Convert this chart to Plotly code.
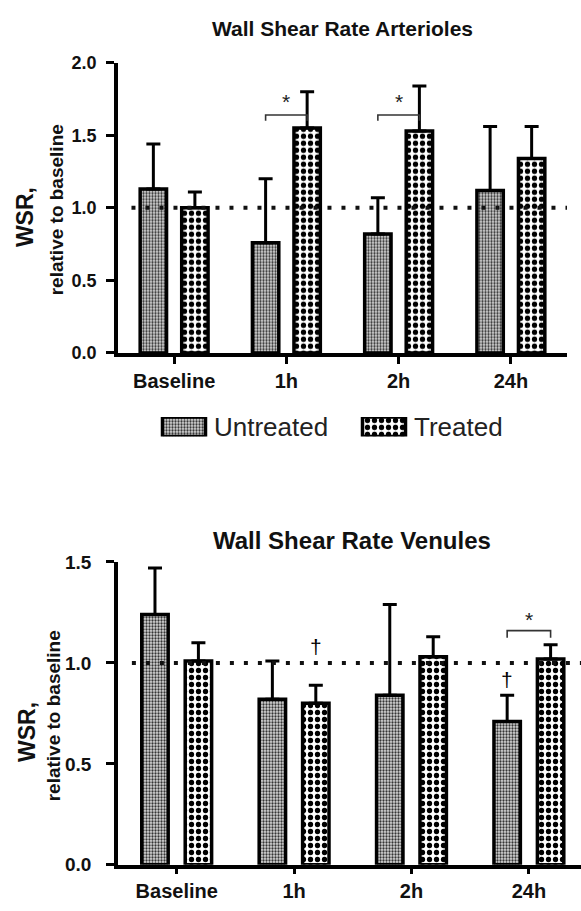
import plotly.graph_objects as go

# ---------------- data ----------------
categories = ["Baseline", "1h", "2h", "24h"]

art_untreated = [1.13, 0.76, 0.82, 1.12]
art_untreated_err = [0.31, 0.44, 0.25, 0.44]
art_treated = [1.00, 1.55, 1.53, 1.34]
art_treated_err = [0.11, 0.25, 0.31, 0.22]

ven_untreated = [1.24, 0.82, 0.84, 0.71]
ven_untreated_err = [0.23, 0.19, 0.45, 0.13]
ven_treated = [1.01, 0.80, 1.03, 1.02]
ven_treated_err = [0.09, 0.09, 0.10, 0.07]

art_ticks = [0.0, 0.5, 1.0, 1.5, 2.0]
ven_ticks = [0.0, 0.5, 1.0, 1.5]
reference_level = 1.0

# significance marks: (category index, bracket level, symbol level)
art_brackets = [(1, 1.64, 1.735), (2, 1.64, 1.735)]
ven_brackets = [(3, 1.16, 1.215)]
# daggers: (category index, series, level)
ven_daggers = [(1, "Treated", 1.08), (3, "Untreated", 0.92)]

series_names = ["Untreated", "Treated"]

# ---------------- style ----------------
W, H = 581, 911
FONT = "Liberation Sans, Arial, Helvetica, sans-serif"
INK = "#111111"
BAR_OFF = 0.185
BAR_W = 0.235

pat_untreated = dict(shape=".", size=3, solidity=0.45, fgcolor="#333333", bgcolor="#d8d8d8", fillmode="replace")
pat_treated = dict(shape=".", size=7, solidity=0.45, fgcolor="#000000", bgcolor="white", fillmode="replace")
patterns = {"Untreated": pat_untreated, "Treated": pat_treated}
offsets = {"Untreated": -BAR_OFF, "Treated": BAR_OFF}

fig = go.Figure()


def add_bars(vals, errs, name, xa, ya, width):
    fig.add_trace(go.Bar(
        x=list(range(len(categories))), y=vals, name=name,
        xaxis=xa, yaxis=ya, showlegend=False,
        width=width, offset=offsets[name] - width / 2,
        marker=dict(color="white", pattern=patterns[name],
                    line=dict(color="black", width=3.5)),
        error_y=dict(type="data", array=errs, arrayminus=[0] * len(errs),
                     symmetric=False, color="black", thickness=3, width=7),
    ))


add_bars(art_untreated, art_untreated_err, "Untreated", "x", "y", BAR_W)
add_bars(art_treated, art_treated_err, "Treated", "x", "y", BAR_W)
add_bars(ven_untreated, ven_untreated_err, "Untreated", "x2", "y2", 0.225)
add_bars(ven_treated, ven_treated_err, "Treated", "x2", "y2", 0.225)

# legend swatches drawn as bars on a hidden axis
for i, name in enumerate(series_names):
    fig.add_trace(go.Bar(
        x=[i], y=[1], xaxis="x3", yaxis="y3", showlegend=False,
        width=0.215,
        marker=dict(color="white", pattern=patterns[name],
                    line=dict(color="black", width=3.5)),
        hoverinfo="skip",
    ))

shapes = []
annotations = []

# dotted reference lines
for xa, ya in (("x", "y"), ("x2", "y2")):
    shapes.append(dict(type="line", xref=f"{xa} domain", yref=ya,
                       x0=0.03, x1=1, y0=reference_level, y1=reference_level,
                       line=dict(color=INK, width=4, dash="4px,10px"), layer="above"))


def ann(**kw):
    kw.setdefault("showarrow", False)
    kw.setdefault("xanchor", "center")
    kw.setdefault("yanchor", "middle")
    annotations.append(kw)


def bracket(idx, level, star_level, xa, ya, drop):
    x0 = idx - BAR_OFF
    x1 = idx + BAR_OFF
    shapes.append(dict(type="path", xref=xa, yref=ya,
                       path=f"M {x0} {level - drop} L {x0} {level} L {x1} {level} L {x1} {level - drop}",
                       line=dict(color="#333333", width=1.6)))
    ann(x=idx, y=star_level, xref=xa, yref=ya, text="*",
        font=dict(family=FONT, size=21, color="#222222"))


for idx, lvl, sl in art_brackets:
    bracket(idx, lvl, sl, "x", "y", 0.04)
for idx, lvl, sl in ven_brackets:
    bracket(idx, lvl, sl, "x2", "y2", 0.035)

for idx, name, lvl in ven_daggers:
    ann(x=idx + offsets[name], y=lvl, xref="x2", yref="y2", text="†",
        font=dict(family=FONT, size=21, color="#000000"))

# titles
ann(x=342 / W, y=1 - 19 / H, xref="paper", yref="paper",
    text="<b>Wall Shear Rate Arterioles</b>", font=dict(family=FONT, size=21, color=INK))
ann(x=352 / W, y=1 - 543 / H, xref="paper", yref="paper",
    text="<b>Wall Shear Rate Venules</b>", font=dict(family=FONT, size=24, color=INK))

# y-axis titles
for (cx1, cy1, cx2, cy2, s2) in ((25, 212, 56, 205, 19), (27, 739, 53, 723, 19)):
    ann(x=cx1 / W, y=1 - cy1 / H, xref="paper", yref="paper",
        text="<b>WSR,</b>", textangle=-90, font=dict(family=FONT, size=23, color=INK))
    ann(x=cx2 / W, y=1 - cy2 / H, xref="paper", yref="paper",
        text="<b>relative to baseline</b>", textangle=-90, font=dict(family=FONT, size=s2, color=INK))

# legend labels
for name, left in (("Untreated", 212), ("Treated", 412)):
    ann(x=left / W, y=1 - 427 / H, xref="paper", yref="paper", xanchor="left",
        text=name, font=dict(family=FONT, size=26, color="#222222"))

axis_common = dict(showgrid=False, zeroline=False, showline=True, linecolor="black",
                   linewidth=3.5, ticks="outside", tickcolor="black", tickwidth=3)

fig.update_layout(
    width=W, height=H, margin=dict(l=0, r=0, t=0, b=0),
    paper_bgcolor="white", plot_bgcolor="white",
    barmode="overlay", shapes=shapes, annotations=annotations,
    xaxis=dict(domain=[118 / W, 567 / W], range=[-0.5, 3.5], tickvals=list(range(4)),
               ticktext=categories, ticklen=7, anchor="y",
               tickfont=dict(family=FONT, size=20, color=INK, weight="bold"), **axis_common),
    yaxis=dict(domain=[(H - 351) / H, (H - 54) / H], range=[0, 2], tickvals=art_ticks,
               ticktext=[f"{v:.1f}" for v in art_ticks], ticklen=8, anchor="x",
               ticklabelstandoff=6,
               tickfont=dict(family=FONT, size=18, color=INK, weight="bold"), **axis_common),
    xaxis2=dict(domain=[118 / W, 1.0], range=[-0.5, 3.444], tickvals=list(range(4)),
                ticktext=categories, ticklen=5, anchor="y2",
                tickfont=dict(family=FONT, size=20, color=INK, weight="bold"), **axis_common),
    yaxis2=dict(domain=[36 / H, (H - 565) / H], range=[0, 1.5], tickvals=ven_ticks,
                ticktext=[f"{v:.1f}" for v in ven_ticks], ticklen=8, anchor="x2",
                ticklabelstandoff=11,
                tickfont=dict(family=FONT, size=19, color=INK, weight="bold"), **axis_common),
    xaxis3=dict(domain=[84 / W, 484 / W], range=[-0.5, 1.5], visible=False, anchor="y3"),
    yaxis3=dict(domain=[(H - 436.5) / H, (H - 416.5) / H], range=[0, 1], visible=False, anchor="x3"),
)

fig.write_html("out.html", config={"displayModeBar": False},
               post_script="document.body.style.margin='0px';document.body.style.overflow='hidden';")
